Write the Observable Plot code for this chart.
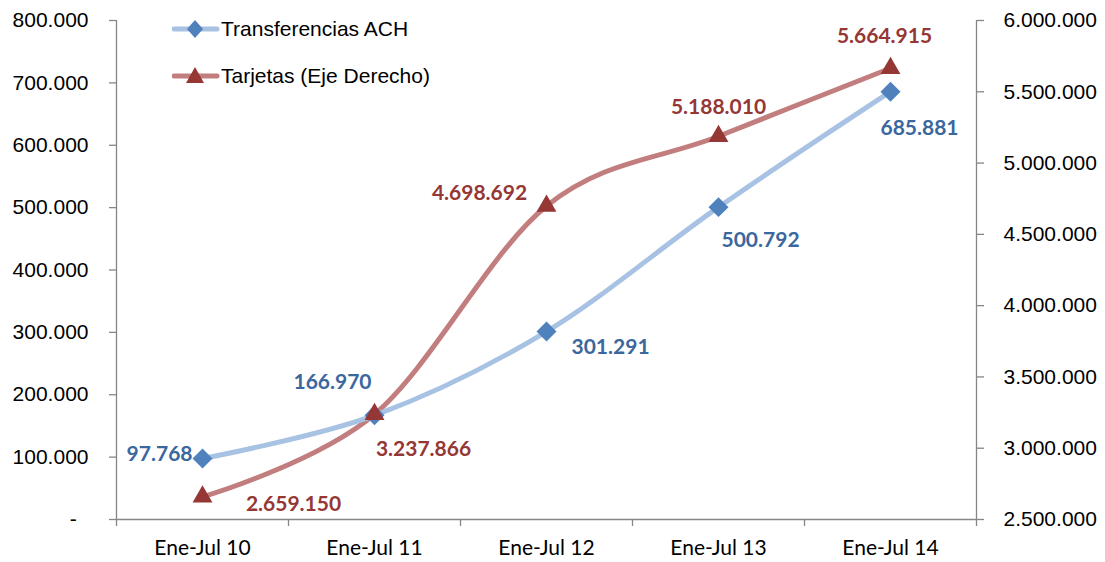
<!DOCTYPE html>
<html>
<head>
<meta charset="utf-8">
<script src="https://cdn.jsdelivr.net/npm/d3@7"></script>
<script src="https://cdn.jsdelivr.net/npm/@observablehq/plot@0.6"></script>
<style>
  html, body { margin: 0; padding: 0; background: #fff; }
  #wrap { position: relative; width: 1105px; height: 562px; }
  #legend { position: absolute; left: 0; top: 0; font-family: "Liberation Sans", Arial, sans-serif; font-size: 21px; color: #000; }
  .li { position: absolute; display: flex; align-items: center; white-space: nowrap; }
</style>
</head>
<body>
<div id="wrap">
  <div id="chart"></div>
  <div id="legend"></div>
</div>
<script>
// ---- data ----
const categories = ["Ene-Jul 10", "Ene-Jul 11", "Ene-Jul 12", "Ene-Jul 13", "Ene-Jul 14"];
const achValues = [97768, 166970, 301291, 500792, 685881];
const tarjetasValues = [2659150, 3237866, 4698692, 5188010, 5664915];
const seriesNames = ["Transferencias ACH", "Tarjetas (Eje Derecho)"];
const leftTicks = [0, 100000, 200000, 300000, 400000, 500000, 600000, 700000, 800000];
const rightTicks = [2500000, 3000000, 3500000, 4000000, 4500000, 5000000, 5500000, 6000000];

// ---- helpers ----
const leftMax = 800000, rightMin = 2500000, rightMax = 6000000;
const toLeft = v => (v - rightMin) / (rightMax - rightMin) * leftMax;
const fromLeft = v => rightMin + v / leftMax * (rightMax - rightMin);
const loc = d3.formatLocale({decimal: ",", thousands: ".", grouping: [3], currency: ["$", ""]});
const fmt = loc.format(",d");
const fmtDash = v => v === 0 ? "-\u00a0\u00a0" : fmt(v);

const achColorLine = "#A7C2E2", achColorMark = "#4F81BD", achLabel = "#3A679E";
const tarColorLine = "#C27E7E", tarColorMark = "#953735", tarLabel = "#953735";
const axisGray = "#868686";

const ach = achValues.map((v, i) => ({i, v, y: v}));
const tar = tarjetasValues.map((v, i) => ({i, v, y: toLeft(v)}));

// label placement (style, not data)
const achPlace = [
  {dx: -10, dy: -4, anchor: "end"},
  {dx: -42, dy: -33, anchor: "middle"},
  {dx: 25, dy: 16, anchor: "start"},
  {dx: 3, dy: 33, anchor: "start"},
  {dx: 29, dy: 37, anchor: "middle"}
];
const tarPlace = [
  {dx: 91, dy: 7, anchor: "middle"},
  {dx: 49, dy: 35, anchor: "middle"},
  {dx: -67, dy: -13, anchor: "middle"},
  {dx: 0, dy: -29, anchor: "middle"},
  {dx: -6, dy: -32, anchor: "middle"}
];
const labelFont = {fontFamily: "Lato, 'Open Sans', sans-serif", fontWeight: "bold", fontSize: 21};
const labelMarks = (rows, place, color) => rows.map((d, k) =>
  Plot.text([d], {x: "i", y: "y", text: r => fmt(r.v), dx: place[k].dx, dy: place[k].dy,
    textAnchor: place[k].anchor, fill: color, ...labelFont}));

const chart = Plot.plot({
  width: 1105,
  height: 562,
  marginLeft: 116,
  marginRight: 129,
  marginTop: 20,
  marginBottom: 43,
  style: {fontFamily: "'Liberation Sans', Arial, sans-serif", background: "#fff"},
  x: {type: "linear", domain: [-0.5, categories.length - 0.5], axis: null},
  y: {domain: [0, leftMax], axis: null},
  marks: [
    // axes lines
    Plot.ruleX([-0.5], {stroke: axisGray, strokeWidth: 1.3}),
    Plot.ruleX([categories.length - 0.5], {stroke: axisGray, strokeWidth: 1.3}),
    Plot.ruleY([0], {stroke: axisGray, strokeWidth: 1.3}),
    // left axis
    Plot.axisY({anchor: "left", label: null, ticks: leftTicks, tickSize: 7, tickPadding: 21, tickFormat: fmtDash,
      stroke: axisGray, fill: "#000", fontSize: 21, strokeWidth: 1.3}),
    // right axis (ticks mapped onto left scale)
    Plot.axisY({anchor: "right", label: null, ticks: rightTicks.map(toLeft), tickSize: 7, tickPadding: 20,
      tickFormat: v => fmt(Math.round(fromLeft(v))), stroke: axisGray, fill: "#000", fontSize: 21, strokeWidth: 1.3}),
    // x boundary ticks
    Plot.axisX({label: null, ticks: d3.range(categories.length + 1).map(i => i - 0.5), tickSize: 7, tickFormat: () => "",
      stroke: axisGray, strokeWidth: 1.3}),
    // x labels
    Plot.axisX({label: null, ticks: d3.range(categories.length), tickSize: 0, tickPadding: 21, tickFormat: i => categories[i],
      fill: "#000", fontSize: 21, fontFamily: "Lato, 'Open Sans', sans-serif"}),
    // lines
    Plot.line(tar, {x: "i", y: "y", stroke: tarColorLine, strokeWidth: 5, curve: "cardinal"}),
    Plot.line(ach, {x: "i", y: "y", stroke: achColorLine, strokeWidth: 5, curve: "cardinal"}),
    Plot.dot(ach, {x: "i", y: "y", symbol: "diamond2", r: 9, fill: achColorMark, stroke: null}),
    Plot.dot(tar, {x: "i", y: "y", symbol: "triangle2", r: 9.5, fill: tarColorMark, stroke: null}),
    ...labelMarks(ach, achPlace, achLabel),
    ...labelMarks(tar, tarPlace, tarLabel)
  ]
});
document.getElementById("chart").appendChild(chart);

// legend
const legend = document.getElementById("legend");
const items = [
  {name: seriesNames[0], line: achColorLine, mark: achColorMark, sym: "diamond", top: 29},
  {name: seriesNames[1], line: tarColorLine, mark: tarColorMark, sym: "triangle", top: 76}
];
for (const it of items) {
  const div = document.createElement("div");
  div.className = "li";
  div.style.left = "172px";
  div.style.top = (it.top - 12) + "px";
  div.style.height = "24px";
  const shape = it.sym === "diamond"
    ? `<path d="M23,3 L31,12 L23,21 L15,12 Z" fill="${it.mark}"/>`
    : `<path d="M23,3 L32,19 L14,19 Z" fill="${it.mark}"/>`;
  div.innerHTML = `<svg width="49" height="24" style="display:block"><line x1="2" y1="12" x2="45" y2="12" stroke="${it.line}" stroke-width="5" stroke-linecap="round"/>${shape}</svg><span style="margin-left:0px">${it.name}</span>`;
  legend.appendChild(div);
}
</script>
</body>
</html>
